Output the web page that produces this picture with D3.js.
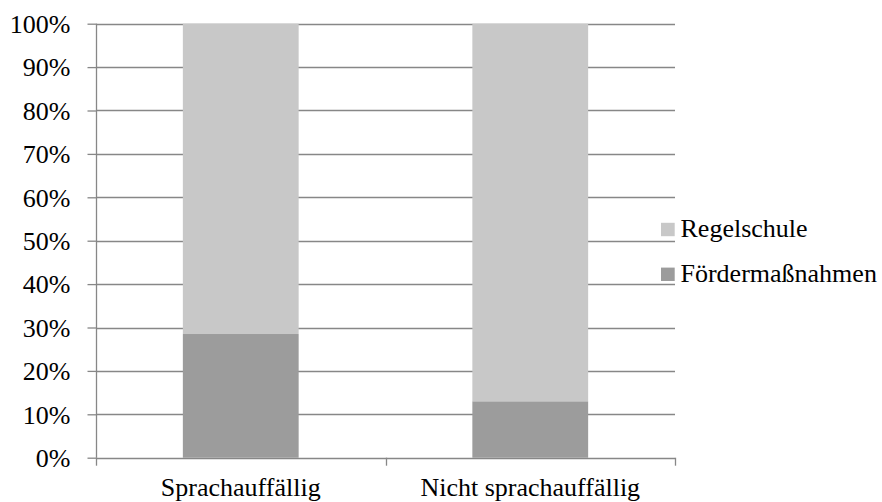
<!DOCTYPE html>
<html>
<head>
<meta charset="utf-8">
<script src="https://cdn.jsdelivr.net/npm/d3@7/dist/d3.min.js"></script>
<style>
  html, body { margin: 0; padding: 0; background: #fff; }
  svg text { font-family: "Liberation Serif", "Times New Roman", serif; fill: #000; }
</style>
</head>
<body>
<svg id="chart" width="882" height="502"></svg>
<script>
// Share of children per school track, stacked to 100%
const categories = ["Sprachauffällig", "Nicht sprachauffällig"];
const foerder = [0.285, 0.13];
const regel = [0.715, 0.87];
const seriesNames = ["Fördermaßnahmen", "Regelschule"];
const seriesColors = ["#9c9c9c", "#c8c8c8"];
const yTicks = [0, 0.1, 0.2, 0.3, 0.4, 0.5, 0.6, 0.7, 0.8, 0.9, 1.0];

const svg = d3.select("#chart");
const plotLeft = 96, plotRight = 675, plotTop = 23.7, plotBottom = 457.7;
const fontSize = 26;

const x = d3.scaleBand().domain(categories).range([plotLeft, plotRight])
  .paddingInner(0.6).paddingOuter(0.3);
const y = d3.scaleLinear().domain([0, 1]).range([plotBottom, plotTop]);

// horizontal gridlines
svg.append("g").selectAll("line").data(yTicks.filter(d => d > 0)).join("line")
  .attr("x1", plotLeft).attr("x2", plotRight)
  .attr("y1", d => Math.round(y(d)) + 0.5).attr("y2", d => Math.round(y(d)) + 0.5)
  .attr("stroke", "#878787").attr("stroke-width", 1.3);

// stacked bars
const rows = categories.map((c, i) => ({ cat: c, "Fördermaßnahmen": foerder[i], "Regelschule": regel[i] }));
const stack = d3.stack().keys(seriesNames)(rows);
svg.append("g").selectAll("g").data(stack).join("g")
  .attr("fill", (d, i) => seriesColors[i])
  .selectAll("rect").data(d => d).join("rect")
  .attr("x", d => x(d.data.cat))
  .attr("width", x.bandwidth())
  .attr("y", d => y(d[1]))
  .attr("height", d => y(d[0]) - y(d[1]));

// y axis
const yAxis = d3.axisLeft(y).tickValues(yTicks).tickFormat(d3.format(".0%")).tickSize(9).tickPadding(17);
const gy = svg.append("g").attr("transform", `translate(${plotLeft + 0.5},0)`).call(yAxis);
gy.selectAll("path, line").attr("stroke", "#878787").attr("stroke-width", 1.3);
gy.select(".domain").attr("d", `M0,${plotTop}V${plotBottom}`);
gy.selectAll("text").attr("font-size", fontSize).attr("font-family", "Liberation Serif")
  .attr("dy", "0.34em");

// x axis baseline with separators between categories
const xEdges = [plotLeft, (plotLeft + plotRight) / 2, plotRight];
svg.append("line").attr("x1", plotLeft).attr("x2", plotRight)
  .attr("y1", Math.round(plotBottom) + 0.5).attr("y2", Math.round(plotBottom) + 0.5)
  .attr("stroke", "#878787").attr("stroke-width", 1.3);
svg.append("g").selectAll("line").data(xEdges).join("line")
  .attr("x1", d => Math.round(d) + 0.5).attr("x2", d => Math.round(d) + 0.5)
  .attr("y1", plotBottom).attr("y2", plotBottom + 8)
  .attr("stroke", "#878787").attr("stroke-width", 1.3);

// category labels
svg.append("g").selectAll("text").data(categories).join("text")
  .attr("x", d => x(d) + x.bandwidth() / 2)
  .attr("y", 495.5)
  .attr("text-anchor", "middle")
  .attr("font-size", fontSize)
  .text(d => d);

// legend
const legendItems = [
  { name: "Regelschule", color: seriesColors[1], y: 229.5 },
  { name: "Fördermaßnahmen", color: seriesColors[0], y: 274.3 }
];
const lg = svg.append("g").selectAll("g").data(legendItems).join("g")
  .attr("transform", d => `translate(661,${d.y})`);
lg.append("rect").attr("x", 0).attr("y", -6.7).attr("width", 13.7).attr("height", 13.4)
  .attr("fill", d => d.color);
lg.append("text").attr("x", 19.5).attr("y", 7.3).attr("font-size", fontSize).text(d => d.name);
</script>
</body>
</html>
